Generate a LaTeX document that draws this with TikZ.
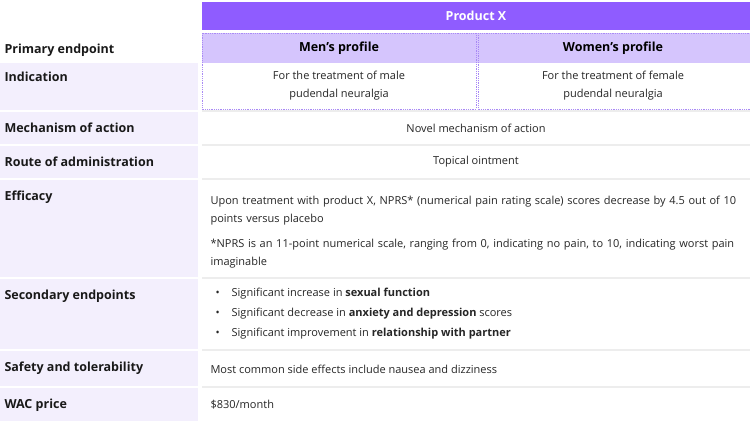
\documentclass[tikz,border=0pt]{standalone}
\usepackage{fontspec}
\setmainfont{Open Sans}
\begin{document}
\begin{tikzpicture}[x=1pt,y=-1pt,
  lab/.style={anchor=west,font=\fontsize{12.5}{15}\selectfont\bfseries,text=black!90},
  body/.style={font=\fontsize{11}{18}\selectfont,text=black!85},
  lc/.style={fill=lav},
  sep/.style={draw=black!7,line width=1.5pt}]
\definecolor{lav}{HTML}{F3EFFD}
\definecolor{hdr}{HTML}{8F5CFF}
\definecolor{sub}{HTML}{D5C5FD}
\definecolor{dot}{HTML}{A98AF5}
\useasboundingbox (0,0) rectangle (750,421);
\fill[white] (0,0) rectangle (750,421);
% left column fills
\foreach \a/\b in {63/110,112/144,146/178,180/277,279/349,351/386,388/421}
  \fill[lav] (0,\a) rectangle (198,\b);
% right separators
\foreach \y in {111,145,179,278,350,387}
  \draw[sep] (202,\y) -- (750,\y);
% header
\fill[hdr] (202,2) rectangle (750,30);
\node[font=\fontsize{12.5}{15}\selectfont\bfseries,text=white] (px) at (476,16) {Product X};
\fill[sub] (202,33) rectangle (750,63);
\draw[dot,densely dotted,line width=0.8pt] (202,33) rectangle (476,109) (478,33) rectangle (750,109);
\node[font=\fontsize{12.5}{15}\selectfont\bfseries] (mp) at (339,48) {Men’s profile};
\node[font=\fontsize{12.5}{15}\selectfont\bfseries] (wp) at (613,48) {Women’s profile};
\node[body,align=center] (mi) at (339,86) {For the treatment of male\\pudendal neuralgia};
\node[body,align=center] (wi) at (613,86) {For the treatment of female\\pudendal neuralgia};
% labels
\node[lab] (l0) at (1,50) {Primary endpoint};
\node[lab] (l1) at (1,77) {Indication};
\node[lab] (l2) at (1,128) {Mechanism of action};
\node[lab] (l3) at (1,162) {Route of administration};
\node[lab] (l4) at (1,197) {Efficacy};
\node[lab] (l5) at (1,296) {Secondary endpoints};
\node[lab] (l6) at (1,368) {Safety and tolerability};
\node[lab] (l7) at (1,405) {WAC price};
% content
\node[body] (c2) at (476,128) {Novel mechanism of action};
\node[body] (c3) at (476,162) {Topical ointment};
\node[body,anchor=north west,text width=535pt,align=left] (c4) at (207,193)
  {Upon treatment with product X, NPRS* (numerical pain rating scale) scores decrease by 4.5 out of 10 points versus placebo\\[7pt]
   *NPRS is an 11-point numerical scale, ranging from 0, indicating no pain, to 10, indicating worst pain imaginable};
\node[body,anchor=west] (b1) at (212,294) {•\hspace{12pt}Significant increase in \textbf{sexual function}};
\node[body,anchor=west] (b2) at (212,314) {•\hspace{12pt}Significant decrease in \textbf{anxiety and depression} scores};
\node[body,anchor=west] (b3) at (212,334) {•\hspace{12pt}Significant improvement in \textbf{relationship with partner}};
\node[body,anchor=west] (c6) at (207,369) {Most common side effects include nausea and dizziness};
\node[body,anchor=west] (c7) at (207,405) {\$830/month};
\end{tikzpicture}
\end{document}
